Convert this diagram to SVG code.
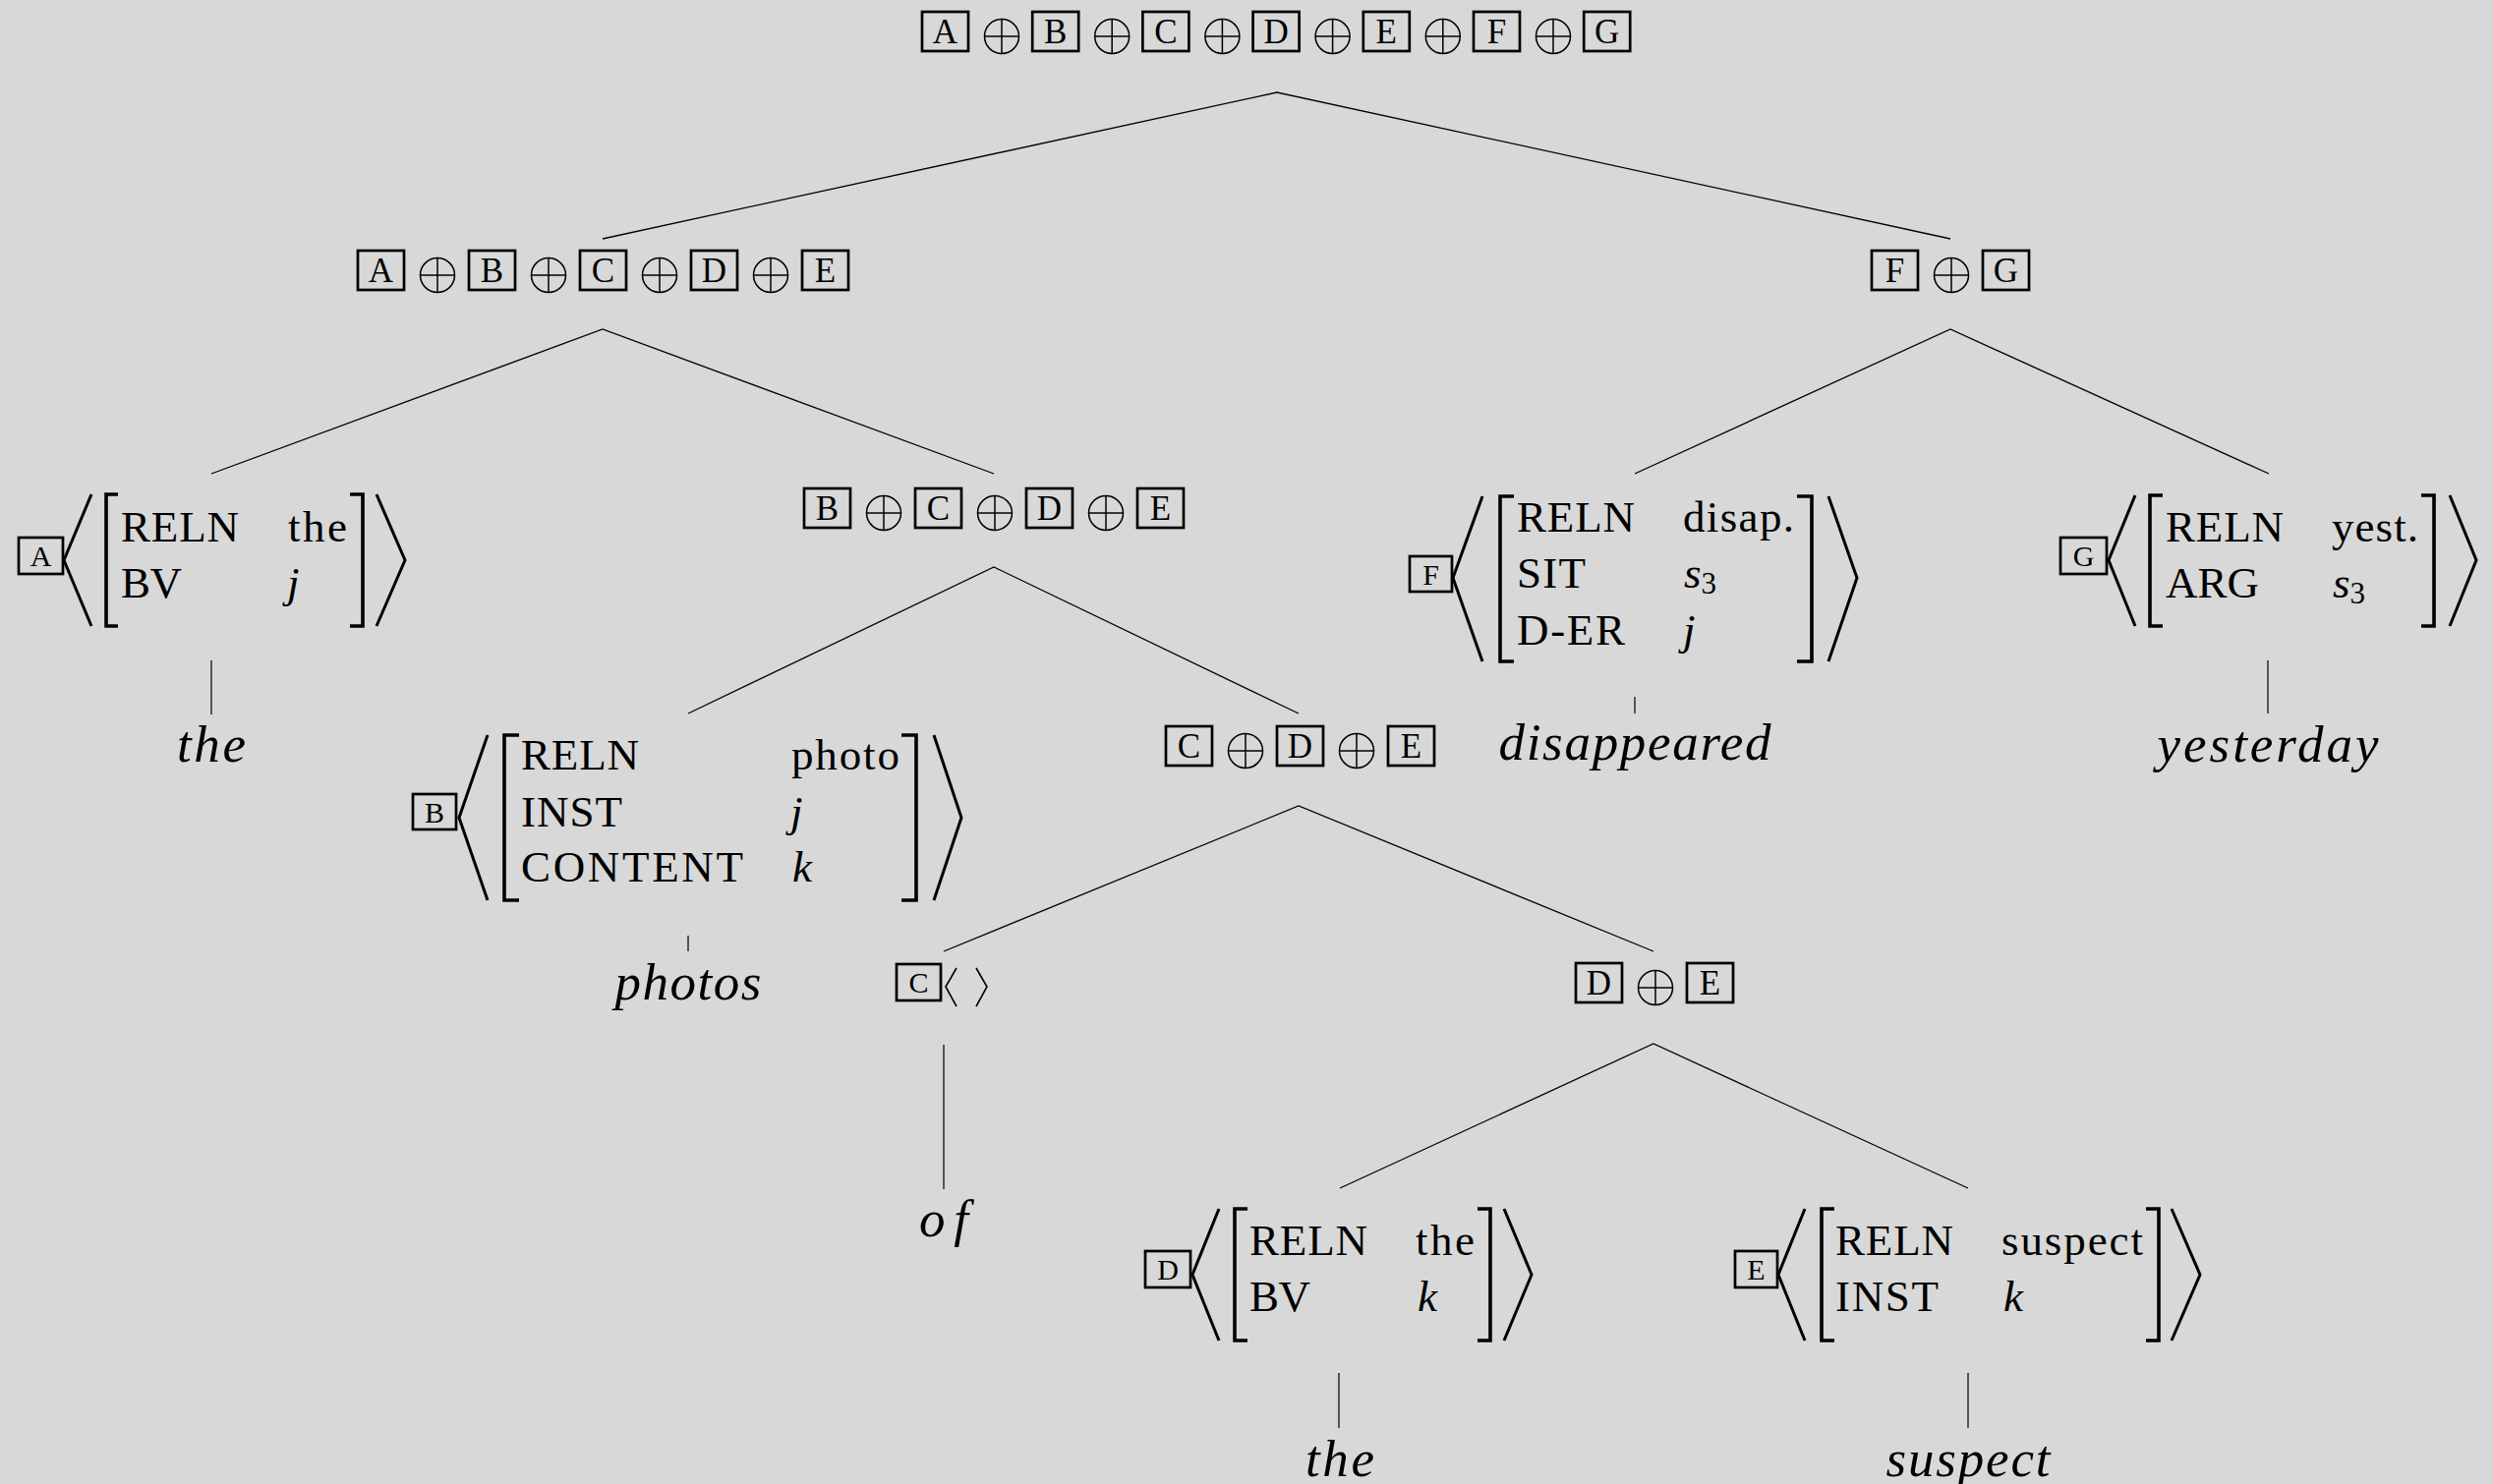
<svg xmlns="http://www.w3.org/2000/svg" xmlns:xlink="http://www.w3.org/1999/xlink" width="2536" height="1510" viewBox="0 0 2536 1510">
<style>
text{font-family:"Liberation Serif","DejaVu Serif",serif;fill:#000}
.t{font-size:45px}
.i{font-style:italic}
.w{font-size:53px;font-style:italic;text-anchor:middle}
.bl{font-size:35px;text-anchor:middle}
.bs{font-size:30px;text-anchor:middle}
.bx{fill:none;stroke:#000;stroke-width:2.7}
.br{fill:none;stroke:#000;stroke-width:3.6}
.ang{fill:none;stroke:#000;stroke-width:3}
.angs{fill:none;stroke:#000;stroke-width:1.6}
.tr{stroke:#000;stroke-width:1.3;fill:none}
.lf{stroke:#555;stroke-width:2;fill:none}
.op{fill:none;stroke:#000;stroke-width:1.5}
</style>
<defs>
<g id="oplus" class="op"><circle cx="0" cy="0" r="17.5"/><path d="M-17.5,0H17.5M0,-17.5V17.5"/></g>
</defs>
<rect x="0" y="0" width="2536" height="1510" fill="#d8d8d8"/>

<g id="connectors">
<path class="tr" d="M613,243L1299,94L1984,243"/>
<path class="tr" d="M215,482L613,335L1011,482"/>
<path class="tr" d="M1663,482L1984,335L2308,482"/>
<path class="tr" d="M700,726L1011,577L1321,726"/>
<path class="tr" d="M960,968L1321,820L1682,968"/>
<path class="tr" d="M1363,1209L1682,1062L2002,1209"/>
<path class="lf" d="M215,672V727"/>
<path class="lf" d="M1663,709V726"/>
<path class="lf" d="M2307,672V726"/>
<path class="lf" d="M700,952V968"/>
<path class="lf" d="M960,1063V1210"/>
<path class="lf" d="M1362,1397V1453"/>
<path class="lf" d="M2002,1397V1453"/>
</g>

<g id="n-root">
<rect class="bx" x="938" y="12" width="47" height="40"/><text class="bl" x="961.5" y="44">A</text>
<use xlink:href="#oplus" x="1019" y="37"/>
<rect class="bx" x="1050.2" y="12" width="47" height="40"/><text class="bl" x="1073.7" y="44">B</text>
<use xlink:href="#oplus" x="1131.2" y="37"/>
<rect class="bx" x="1162.4" y="12" width="47" height="40"/><text class="bl" x="1185.9" y="44">C</text>
<use xlink:href="#oplus" x="1243.4" y="37"/>
<rect class="bx" x="1274.6" y="12" width="47" height="40"/><text class="bl" x="1298.1" y="44">D</text>
<use xlink:href="#oplus" x="1355.6" y="37"/>
<rect class="bx" x="1386.8" y="12" width="47" height="40"/><text class="bl" x="1410.3" y="44">E</text>
<use xlink:href="#oplus" x="1467.8" y="37"/>
<rect class="bx" x="1499" y="12" width="47" height="40"/><text class="bl" x="1522.5" y="44">F</text>
<use xlink:href="#oplus" x="1580" y="37"/>
<rect class="bx" x="1611.2" y="12" width="47" height="40"/><text class="bl" x="1634.7" y="44">G</text>
</g>

<g id="n-ABCDE">
<rect class="bx" x="364" y="255" width="47" height="40"/><text class="bl" x="387.5" y="287">A</text>
<use xlink:href="#oplus" x="445" y="280"/>
<rect class="bx" x="477" y="255" width="47" height="40"/><text class="bl" x="500.5" y="287">B</text>
<use xlink:href="#oplus" x="558" y="280"/>
<rect class="bx" x="590" y="255" width="47" height="40"/><text class="bl" x="613.5" y="287">C</text>
<use xlink:href="#oplus" x="671" y="280"/>
<rect class="bx" x="703" y="255" width="47" height="40"/><text class="bl" x="726.5" y="287">D</text>
<use xlink:href="#oplus" x="784" y="280"/>
<rect class="bx" x="816" y="255" width="47" height="40"/><text class="bl" x="839.5" y="287">E</text>
</g>

<g id="n-FG">
<rect class="bx" x="1904" y="255" width="47" height="40"/><text class="bl" x="1927.5" y="287">F</text>
<use xlink:href="#oplus" x="1985" y="280"/>
<rect class="bx" x="2017" y="255" width="47" height="40"/><text class="bl" x="2040.5" y="287">G</text>
</g>

<g id="n-BCDE">
<rect class="bx" x="818" y="497" width="47" height="40"/><text class="bl" x="841.5" y="529">B</text>
<use xlink:href="#oplus" x="899" y="522"/>
<rect class="bx" x="931" y="497" width="47" height="40"/><text class="bl" x="954.5" y="529">C</text>
<use xlink:href="#oplus" x="1012" y="522"/>
<rect class="bx" x="1044" y="497" width="47" height="40"/><text class="bl" x="1067.5" y="529">D</text>
<use xlink:href="#oplus" x="1125" y="522"/>
<rect class="bx" x="1157" y="497" width="47" height="40"/><text class="bl" x="1180.5" y="529">E</text>
</g>

<g id="n-CDE">
<rect class="bx" x="1186" y="739" width="47" height="40"/><text class="bl" x="1209.5" y="771">C</text>
<use xlink:href="#oplus" x="1267" y="764"/>
<rect class="bx" x="1299" y="739" width="47" height="40"/><text class="bl" x="1322.5" y="771">D</text>
<use xlink:href="#oplus" x="1380" y="764"/>
<rect class="bx" x="1412" y="739" width="47" height="40"/><text class="bl" x="1435.5" y="771">E</text>
</g>

<g id="n-DE">
<rect class="bx" x="1603" y="980" width="47" height="40"/><text class="bl" x="1626.5" y="1012">D</text>
<use xlink:href="#oplus" x="1684" y="1005"/>
<rect class="bx" x="1716" y="980" width="47" height="40"/><text class="bl" x="1739.5" y="1012">E</text>
</g>

<g id="n-A">
<rect class="bx" x="19" y="547" width="45" height="37"/><text class="bs" x="41.5" y="576">A</text>
<path class="ang" d="M93,503L65,570L93,637"/>
<path class="br" d="M120,503H108V637H120"/>
<text class="t" x="123" y="551" textLength="120">RELN</text>
<text class="t" x="293" y="551" textLength="60">the</text>
<text class="t" x="123" y="608" textLength="62">BV</text>
<text class="t i" x="292" y="608">j</text>
<path class="br" d="M356,503H369V637H356"/>
<path class="ang" d="M383,503L412,570L383,637"/>
</g>
<g id="w-the1"><text class="w" x="215" y="775" textLength="70">the</text></g>

<g id="n-F">
<rect class="bx" x="1434" y="566" width="43" height="36"/><text class="bs" x="1455.5" y="595">F</text>
<path class="ang" d="M1508,505L1478,588L1508,673"/>
<path class="br" d="M1540,505H1526V673H1540"/>
<text class="t" x="1543" y="541" textLength="120">RELN</text>
<text class="t" x="1712" y="541" textLength="113">disap.</text>
<text class="t" x="1543" y="598" textLength="70">SIT</text>
<text class="t" x="1713" y="598"><tspan class="i">s</tspan><tspan font-size="31" dy="6">3</tspan></text>
<text class="t" x="1543" y="656" textLength="110">D-ER</text>
<text class="t i" x="1712" y="656">j</text>
<path class="br" d="M1828,505H1843V673H1828"/>
<path class="ang" d="M1860,505L1889,588L1860,673"/>
</g>
<g id="w-disappeared"><text class="w" x="1663" y="773" textLength="277">disappeared</text></g>

<g id="n-G">
<rect class="bx" x="2096" y="547" width="47" height="37"/><text class="bs" x="2119.5" y="576">G</text>
<path class="ang" d="M2172,504L2145,570L2172,637"/>
<path class="br" d="M2200,504H2187V637H2200"/>
<text class="t" x="2203" y="551" textLength="120">RELN</text>
<text class="t" x="2372" y="551" textLength="88">yest.</text>
<text class="t" x="2203" y="608" textLength="95">ARG</text>
<text class="t" x="2373" y="608"><tspan class="i">s</tspan><tspan font-size="31" dy="6">3</tspan></text>
<path class="br" d="M2463,504H2476V637H2463"/>
<path class="ang" d="M2492,504L2519,570L2492,637"/>
</g>
<g id="w-yesterday"><text class="w" x="2307" y="775" textLength="225">yesterday</text></g>

<g id="n-B">
<rect class="bx" x="420" y="808" width="44" height="36"/><text class="bs" x="442" y="837">B</text>
<path class="ang" d="M496,748L467,832L496,916"/>
<path class="br" d="M528,748H513V916H528"/>
<text class="t" x="530" y="783" textLength="120">RELN</text>
<text class="t" x="805" y="783" textLength="110">photo</text>
<text class="t" x="530" y="841" textLength="103">INST</text>
<text class="t i" x="804" y="841">j</text>
<text class="t" x="530" y="897" textLength="226">CONTENT</text>
<text class="t i" x="806" y="897">k</text>
<path class="br" d="M917,748H932V916H917"/>
<path class="ang" d="M950,748L978,832L950,916"/>
</g>
<g id="w-photos"><text class="w" x="700" y="1017" textLength="149">photos</text></g>

<g id="n-C">
<rect class="bx" x="912" y="981" width="45" height="37"/><text class="bs" x="934.5" y="1010">C</text>
<path class="angs" d="M973,985L962,1004L973,1024"/>
<path class="angs" d="M993,985L1004,1004L993,1024"/>
</g>
<g id="w-of"><text class="w" x="960" y="1258" textLength="50">of</text></g>

<g id="n-D">
<rect class="bx" x="1165" y="1273" width="46" height="37"/><text class="bs" x="1188" y="1302">D</text>
<path class="ang" d="M1240,1230L1213,1297L1240,1364"/>
<path class="br" d="M1269,1230H1256V1364H1269"/>
<text class="t" x="1271" y="1277" textLength="120">RELN</text>
<text class="t" x="1440" y="1277" textLength="60">the</text>
<text class="t" x="1271" y="1334" textLength="62">BV</text>
<text class="t i" x="1442" y="1334">k</text>
<path class="br" d="M1503,1230H1516V1364H1503"/>
<path class="ang" d="M1530,1230L1558,1297L1530,1364"/>
</g>
<g id="w-the2"><text class="w" x="1363" y="1502" textLength="70">the</text></g>

<g id="n-E">
<rect class="bx" x="1765" y="1273" width="43" height="37"/><text class="bs" x="1786.5" y="1302">E</text>
<path class="ang" d="M1836,1230L1809,1297L1836,1364"/>
<path class="br" d="M1866,1230H1853V1364H1866"/>
<text class="t" x="1867" y="1277" textLength="120">RELN</text>
<text class="t" x="2036" y="1277" textLength="144">suspect</text>
<text class="t" x="1867" y="1334" textLength="105">INST</text>
<text class="t i" x="2038" y="1334">k</text>
<path class="br" d="M2183,1230H2196V1364H2183"/>
<path class="ang" d="M2209,1230L2238,1297L2209,1364"/>
</g>
<g id="w-suspect"><text class="w" x="2002" y="1502" textLength="167">suspect</text></g>
</svg>
